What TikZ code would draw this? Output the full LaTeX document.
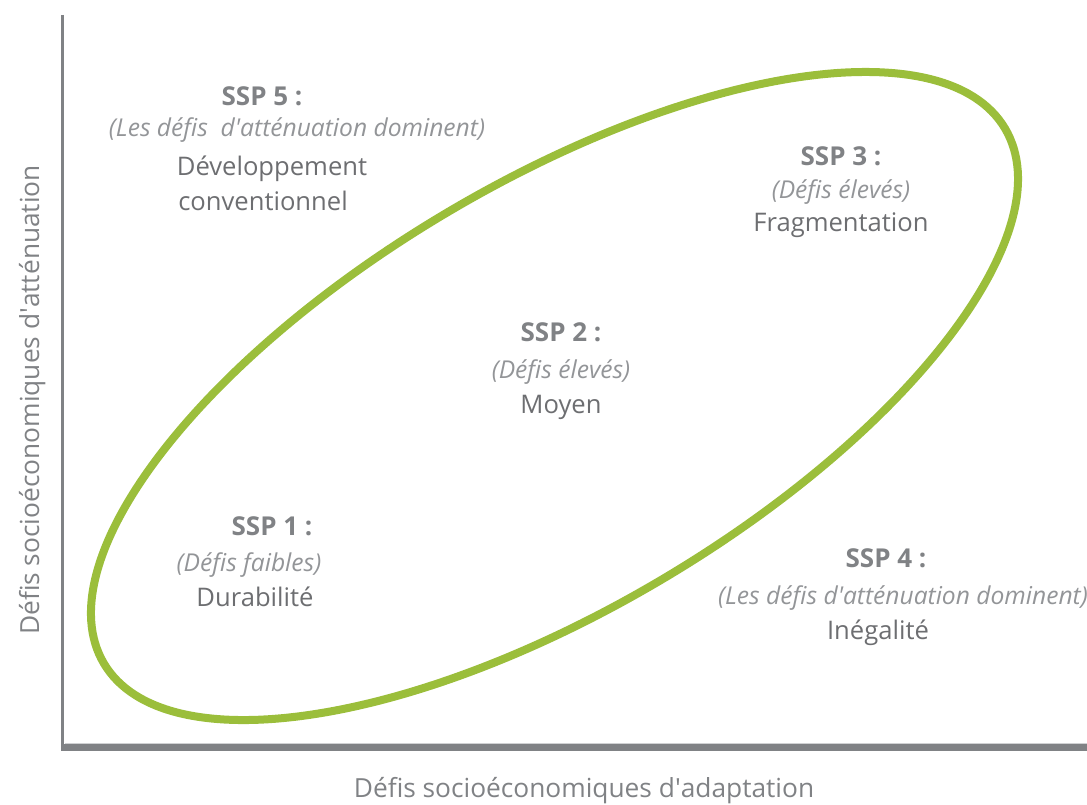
\documentclass[tikz,border=0pt]{standalone}
\usepackage{fontspec}
\setmainfont{Open Sans}
\definecolor{axisgray}{HTML}{808285}
\definecolor{lightline}{HTML}{D0D1D3}
\definecolor{ssgreen}{HTML}{9BBE3B}
\definecolor{boldgray}{HTML}{808285}
\definecolor{reggray}{HTML}{6D6E71}
\definecolor{itgray}{HTML}{939598}
\begin{document}
\begin{tikzpicture}[x=1pt,y=1pt,
  ttl/.style={anchor=base,font=\fontsize{26}{30}\selectfont\bfseries,text=boldgray,inner sep=0pt},
  sub/.style={anchor=base,font=\fontsize{24.6}{28}\selectfont\itshape,text=itgray,inner sep=0pt},
  nam/.style={anchor=base,font=\fontsize{25.6}{30}\selectfont,text=reggray,inner sep=0pt},
  axlab/.style={anchor=base,font=\fontsize{26.3}{30}\selectfont,text=axisgray,inner sep=0pt},
  axisline/.style={draw=axisgray,line cap=butt}]
\useasboundingbox (0,0) rectangle (1087,805);
% axes
\coordinate (ytop) at (62.7,805-15);
\coordinate (ybot) at (62.7,805-747);
\coordinate (xl) at (61,805-748);
\coordinate (xr) at (1087,805-748);
\coordinate (ll) at (64.5,805-743.5);
\coordinate (lr) at (1087,805-743.5);
\draw[draw=lightline,line width=1pt] (ll) -- (lr);
\draw[axisline,line width=3.5pt] (ytop) -- (ybot);
\draw[axisline,line width=7pt] (xl) -- (xr);
% ellipse
\coordinate (ec) at (554.5,805-396);
\draw[ssgreen,line width=8pt,rotate around={30.7:(ec)}] (ec) ellipse [x radius=524,y radius=212.6];
% SSP 5
\node[ttl] (s5a) at (262,805-106) {SSP 5 :};
\node[sub] (s5b) at (297,805-137) {(Les défis\ \ d\textquotesingle atténuation dominent)};
\node[nam] (s5c) at (272,805-176) {Développement};
\node[nam] (s5d) at (263,805-211) {conventionnel};
% SSP 3
\node[ttl] (s3a) at (841,805-166) {SSP 3 :};
\node[sub] (s3b) at (841,805-199) {(Défis élevés)};
\node[nam] (s3c) at (841,805-232) {Fragmentation};
% SSP 2
\node[ttl] (s2a) at (561,805-342) {SSP 2 :};
\node[sub] (s2b) at (561,805-379) {(Défis élevés)};
\node[nam] (s2c) at (561,805-414) {Moyen};
% SSP 1
\node[ttl] (s1a) at (272,805-536) {SSP 1 :};
\node[sub] (s1b) at (249,805-572) {(Défis faibles)};
\node[nam] (s1c) at (255,805-607) {Durabilité};
% SSP 4
\node[ttl] (s4a) at (886,805-568) {SSP 4 :};
\node[sub] (s4b) at (903,805-605) {(Les défis d\textquotesingle atténuation dominent)};
\node[nam] (s4c) at (878,805-640) {Inégalité};
% axis labels
\node[axlab,rotate=90] (ylab) at (39,805-400) {Défis socioéconomiques d\textquotesingle atténuation};
\node[axlab] (xlab) at (584,805-798) {Défis socioéconomiques d\textquotesingle adaptation};
\end{tikzpicture}
\end{document}
